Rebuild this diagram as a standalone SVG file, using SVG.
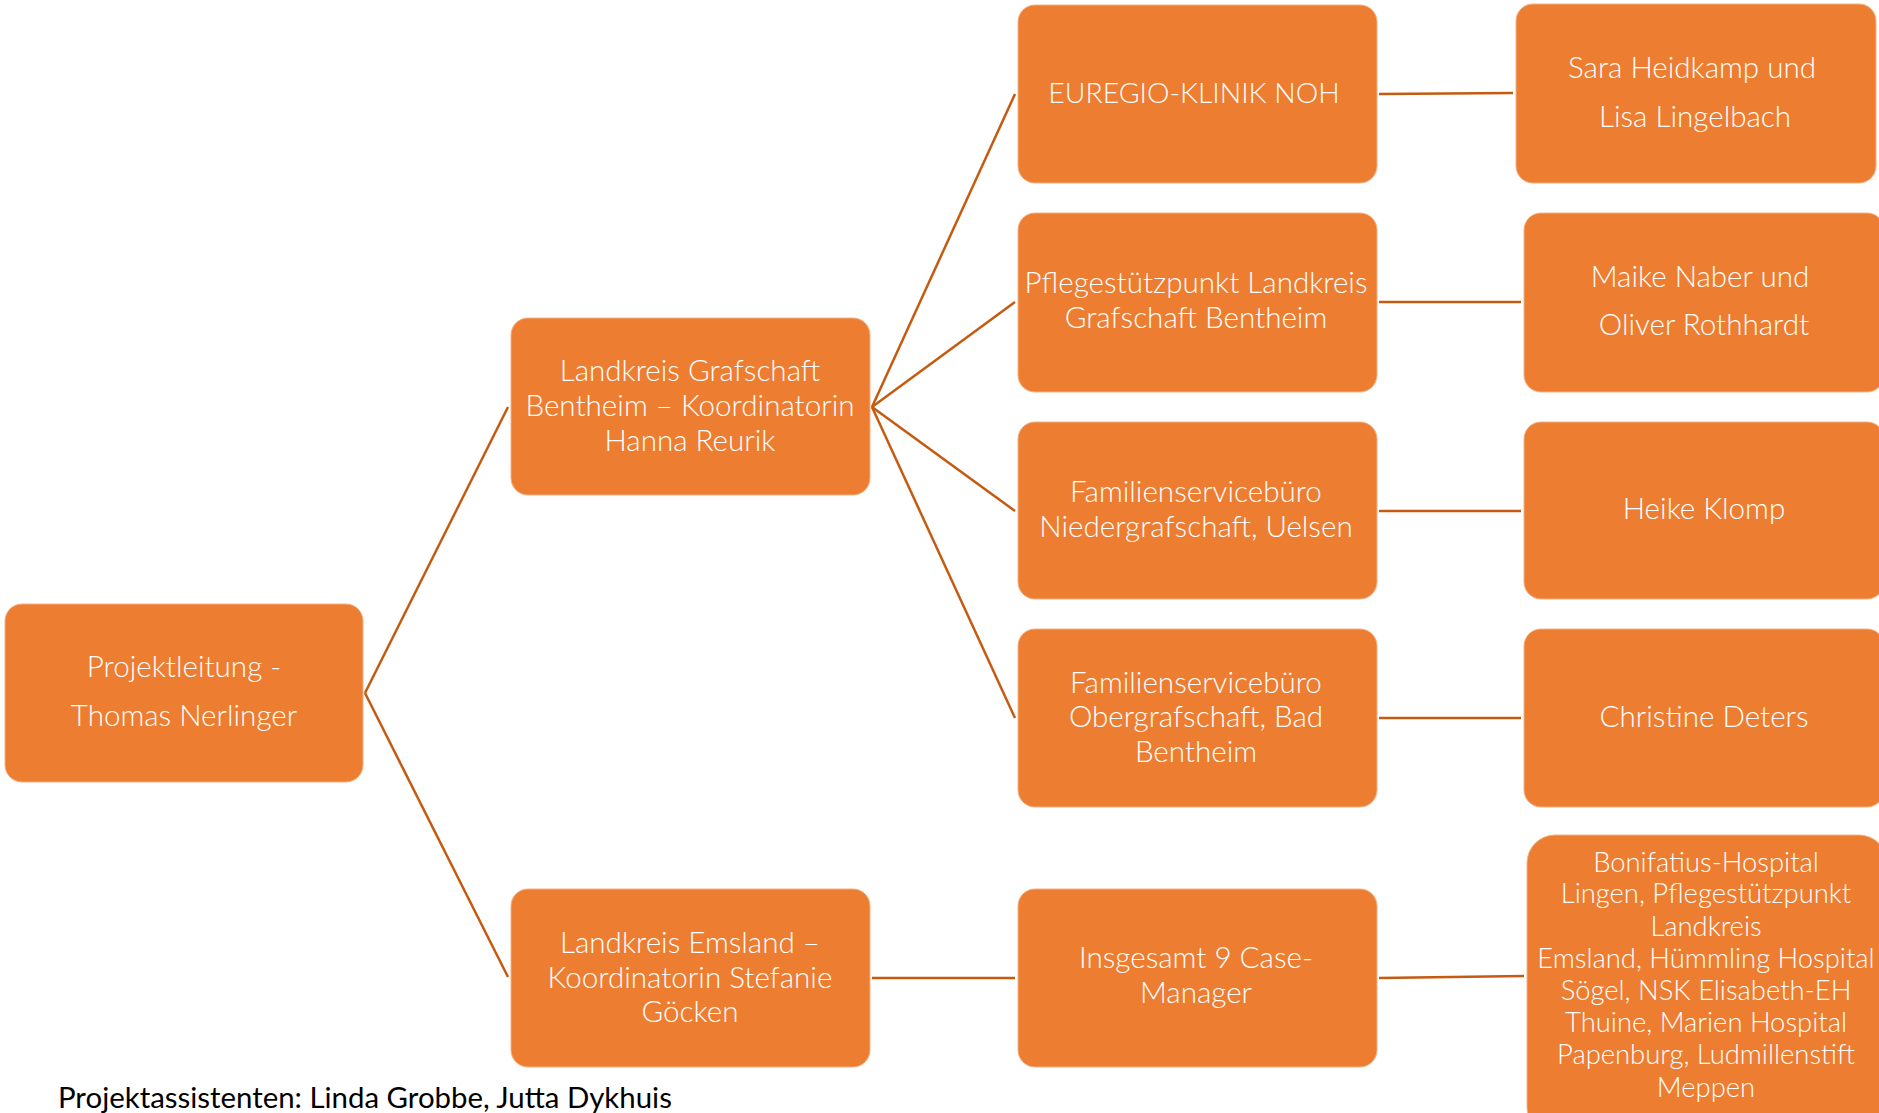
<svg xmlns="http://www.w3.org/2000/svg" width="1879" height="1113" viewBox="0 0 1879 1113">
<style>
.box{fill:#ED7D31;stroke:#F4B183;stroke-width:1}
.t{fill:#FFFFFF;font-family:Lato,"Open Sans","Liberation Sans",sans-serif;font-weight:300;font-size:29.6px;text-anchor:middle}
.s{font-size:27.4px}
.c{fill:none;stroke:#C55A11;stroke-width:2.5}
.foot{fill:#000000;font-family:Lato,"Liberation Sans",sans-serif;font-size:29.4px}
</style>
<rect width="1879" height="1113" fill="#FFFFFF"/>
<g id="connectors">
<line class="c" x1="365" y1="693" x2="508" y2="407"/>
<line class="c" x1="365" y1="693" x2="508" y2="977"/>
<line class="c" x1="872" y1="407" x2="1015" y2="94"/>
<line class="c" x1="872" y1="407" x2="1015" y2="302"/>
<line class="c" x1="872" y1="407" x2="1015" y2="511"/>
<line class="c" x1="872" y1="407" x2="1015" y2="718"/>
<line class="c" x1="1379" y1="94" x2="1513" y2="93"/>
<line class="c" x1="1379" y1="302" x2="1521" y2="302"/>
<line class="c" x1="1379" y1="511" x2="1521" y2="511"/>
<line class="c" x1="1379" y1="718" x2="1521" y2="718"/>
<line class="c" x1="872" y1="978" x2="1015" y2="978"/>
<line class="c" x1="1379" y1="978" x2="1524" y2="976"/>
</g>
<g id="n-projektleitung">
<rect class="box" x="5" y="604" width="358" height="178" rx="17"/>
<text class="t" x="184" y="677">Projektleitung -</text>
<text class="t" x="184" y="726">Thomas Nerlinger</text>
</g>
<g id="n-grafschaft">
<rect class="box" x="511" y="318" width="359" height="177" rx="17"/>
<text class="t" x="690" y="381">Landkreis Grafschaft</text>
<text class="t" x="690" y="416">Bentheim – Koordinatorin</text>
<text class="t" x="690" y="451">Hanna Reurik</text>
</g>
<g id="n-emsland">
<rect class="box" x="511" y="889" width="359" height="178" rx="17"/>
<text class="t" x="690" y="953">Landkreis Emsland –</text>
<text class="t" x="690" y="988">Koordinatorin Stefanie</text>
<text class="t" x="690" y="1022">Göcken</text>
</g>
<g id="n-euregio">
<rect class="box" x="1018" y="5" width="359" height="178" rx="17"/>
<text class="t" x="1194" y="103" style="font-size:28.4px">EUREGIO-KLINIK NOH</text>
</g>
<g id="n-pflege">
<rect class="box" x="1018" y="213" width="359" height="179" rx="17"/>
<text class="t" x="1196" y="293">Pflegestützpunkt Landkreis</text>
<text class="t" x="1196" y="328">Grafschaft Bentheim</text>
</g>
<g id="n-nieder">
<rect class="box" x="1018" y="422" width="359" height="177" rx="17"/>
<text class="t" x="1196" y="502">Familienservicebüro</text>
<text class="t" x="1196" y="537">Niedergrafschaft, Uelsen</text>
</g>
<g id="n-ober">
<rect class="box" x="1018" y="629" width="359" height="178" rx="17"/>
<text class="t" x="1196" y="693">Familienservicebüro</text>
<text class="t" x="1196" y="727">Obergrafschaft, Bad</text>
<text class="t" x="1196" y="762">Bentheim</text>
</g>
<g id="n-insgesamt">
<rect class="box" x="1018" y="889" width="359" height="178" rx="17"/>
<text class="t" x="1196" y="968">Insgesamt 9 Case-</text>
<text class="t" x="1196" y="1003">Manager</text>
</g>
<g id="n-sara">
<rect class="box" x="1516" y="4" width="360" height="179" rx="17"/>
<text class="t" x="1692" y="78">Sara Heidkamp und</text>
<text class="t" x="1695" y="127">Lisa Lingelbach</text>
</g>
<g id="n-maike">
<rect class="box" x="1524" y="213" width="360" height="179" rx="17"/>
<text class="t" x="1700" y="287">Maike Naber und</text>
<text class="t" x="1704" y="335">Oliver Rothhardt</text>
</g>
<g id="n-heike">
<rect class="box" x="1524" y="422" width="360" height="177" rx="17"/>
<text class="t" x="1704" y="519">Heike Klomp</text>
</g>
<g id="n-christine">
<rect class="box" x="1524" y="629" width="360" height="178" rx="17"/>
<text class="t" x="1704" y="727">Christine Deters</text>
</g>
<g id="n-bonifatius">
<rect class="box" x="1527" y="835" width="360" height="300" rx="28"/>
<text class="t s" x="1706" y="872">Bonifatius-Hospital</text>
<text class="t s" x="1706" y="903">Lingen, Pflegestützpunkt</text>
<text class="t s" x="1706" y="936">Landkreis</text>
<text class="t s" x="1706" y="968">Emsland, Hümmling Hospital</text>
<text class="t s" x="1706" y="1000">Sögel, NSK Elisabeth-EH</text>
<text class="t s" x="1706" y="1032">Thuine, Marien Hospital</text>
<text class="t s" x="1706" y="1064">Papenburg, Ludmillenstift</text>
<text class="t s" x="1706" y="1097">Meppen</text>
</g>
<text class="foot" x="58" y="1108">Projektassistenten: Linda Grobbe, Jutta Dykhuis</text>
</svg>
